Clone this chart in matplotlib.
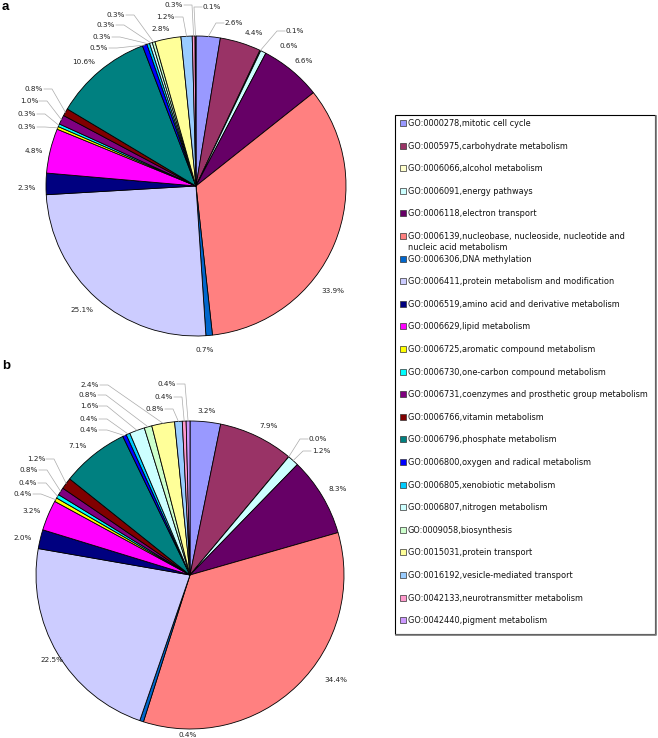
import numpy as np
import matplotlib.pyplot as plt
from matplotlib.patches import Rectangle

### GO categories (legend order = slice order, clockwise from 12 o'clock)
categories = [
    "GO:0000278,mitotic cell cycle",
    "GO:0005975,carbohydrate metabolism",
    "GO:0006066,alcohol metabolism",
    "GO:0006091,energy pathways",
    "GO:0006118,electron transport",
    "GO:0006139,nucleobase, nucleoside, nucleotide and\nnucleic acid metabolism",
    "GO:0006306,DNA methylation",
    "GO:0006411,protein metabolism and modification",
    "GO:0006519,amino acid and derivative metabolism",
    "GO:0006629,lipid metabolism",
    "GO:0006725,aromatic compound metabolism",
    "GO:0006730,one-carbon compound metabolism",
    "GO:0006731,coenzymes and prosthetic group metabolism",
    "GO:0006766,vitamin metabolism",
    "GO:0006796,phosphate metabolism",
    "GO:0006800,oxygen and radical metabolism",
    "GO:0006805,xenobiotic metabolism",
    "GO:0006807,nitrogen metabolism",
    "GO:0009058,biosynthesis",
    "GO:0015031,protein transport",
    "GO:0016192,vesicle-mediated transport",
    "GO:0042133,neurotransmitter metabolism",
    "GO:0042440,pigment metabolism",
]

colors = ["#9999FF", "#993366", "#FFFFCC", "#CCFFFF", "#660066", "#FF8080",
          "#0066CC", "#CCCCFF", "#000080", "#FF00FF", "#FFFF00", "#00FFFF",
          "#800080", "#800000", "#008080", "#0000FF", "#00CCFF", "#CCFFFF",
          "#CCFFCC", "#FFFF99", "#99CCFF", "#FF99CC", "#CC99FF"]

### percentages, panel a and b
pct_a = [2.6, 4.4, 0.1, 0.6, 6.6, 33.9, 0.7, 25.1, 2.3, 4.8, 0.3, 0.3,
         1.0, 0.8, 10.6, 0.5, 0.3, 0.3, 0.3, 2.8, 1.2, 0.3, 0.1]
pct_b = [3.2, 7.9, 0.0, 1.2, 8.3, 34.4, 0.4, 22.5, 2.0, 3.2, 0.4, 0.4,
         0.8, 1.2, 7.1, 0.4, 0.4, 1.6, 0.8, 2.4, 0.8, 0.4, 0.4]

# label placement in pixels: (x centre, y centre, leader side)
lab_a = [(234, 23, 'L'), (254, 33, None), (295, 31, 'L'), (289, 46, None),
         (304, 61, None), (333, 291, None), (205, 350, None), (82, 310, None),
         (27, 188, None), (34, 151, None), (27, 127, 'R'), (27, 114, 'R'),
         (29, 101, 'R'), (34, 89, 'R'), (84, 62, None), (99, 48, 'R'),
         (102, 37, 'R'), (106, 25, 'R'), (116, 15, 'R'), (161, 29, None),
         (165, 17, 'R'), (174, 5, 'R'), (212, 7, 'L')]
lab_b = [(207, 411, None), (269, 426, None), (318, 439, 'L'), (321, 451, 'L'),
         (338, 489, None), (336, 680, None), (188, 735, None), (52, 660, None),
         (23, 538, None), (32, 511, None), (23, 494, 'R'), (28, 483, 'R'),
         (29, 470, 'R'), (36, 459, 'R'), (78, 446, None), (89, 430, 'R'),
         (89, 419, 'R'), (89, 406, 'R'), (88, 395, 'R'), (90, 385, 'R'),
         (155, 409, 'R'), (164, 397, 'R'), (167, 384, 'R')]

W, H = 658, 738
fig = plt.figure(figsize=(W / 100, H / 100), dpi=100)
ax = fig.add_axes([0, 0, 1, 1])


def draw_pie(values, center, radius, labels):
    # y axis runs downward (pixel coords), so counterclock=True draws clockwise
    wedges, _ = ax.pie(values, colors=colors, center=center, radius=radius,
                       startangle=-90, counterclock=True, frame=True,
                       wedgeprops=dict(edgecolor='black', linewidth=0.6))
    for w, v, (tx, ty, side) in zip(wedges, values, labels):
        txt = f"{v:.1f}%"
        ax.text(tx, ty, txt, fontsize=5.2, ha='center', va='center', color='#222222')
        if side is None:
            continue
        mid = np.deg2rad((w.theta1 + w.theta2) / 2)
        px = center[0] + radius * np.cos(mid)
        py = center[1] + radius * np.sin(mid)
        half = 10
        if side == 'R':
            x0, x1 = tx + half, tx + half + 8
        else:
            x0, x1 = tx - half, tx - half - 8
        ax.plot([x0, x1, px], [ty, ty, py], color='#aaaaaa', lw=0.5)


draw_pie(pct_a, (196, 186), 150, lab_a)
draw_pie(pct_b, (190, 575), 154, lab_b)

ax.text(2, 7, "a", fontsize=9.5, fontweight='bold', family='Liberation Sans', va='center')
ax.text(2, 366, "b", fontsize=9.5, fontweight='bold', family='Liberation Sans', va='center')

# legend box with a faint shadow on the lower/right edges
ax.plot([396, 656, 656], [635, 635, 116], color='#777777', lw=1.2)
ax.add_patch(Rectangle((395, 115), 260, 519, facecolor='white', edgecolor='black', lw=0.8))
for i, (name, c) in enumerate(zip(categories, colors)):
    y = 123 + i * 22.6
    ax.add_patch(Rectangle((400, y - 3), 6, 6, facecolor=c, edgecolor='#333333', lw=0.5))
    ax.text(408, y - 4, name, fontsize=5.85, va='top', ha='left', color='#111111',
            linespacing=1.35)

ax.set_xlim(0, W)
ax.set_ylim(H, 0)
ax.axis('off')
fig.savefig('out.png', dpi=100)
